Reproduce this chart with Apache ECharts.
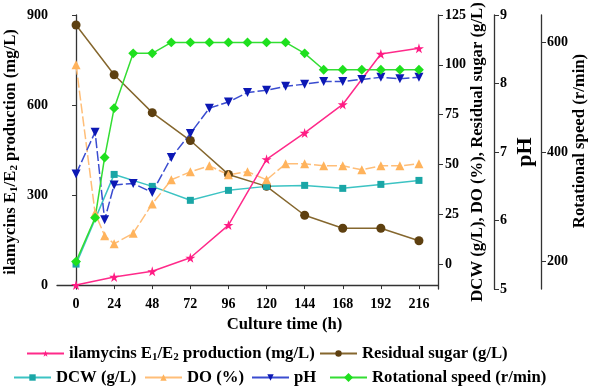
<!DOCTYPE html>
<html>
<head>
<meta charset="utf-8">
<script src="https://cdn.jsdelivr.net/npm/echarts@6/dist/echarts.min.js"></script>
<style>
  html, body { margin: 0; padding: 0; background: #fff; }
  #myChart { width: 590px; height: 387px; }
</style>
</head>
<body>
<div id="myChart"></div>
<script>
// culture time (h)
var hours10 = [0, 24, 48, 72, 96, 120, 144, 168, 192, 216];
var hours20 = [0, 12, 18, 24, 36, 48, 60, 72, 84, 96, 108, 120, 132, 144, 156, 168, 180, 192, 204, 216];

// series values
var ilamycins = [0, 27, 46, 91, 200, 419, 507, 602, 770, 789];
var sugar = [120, 95, 76, 62, 45, 39, 24.5, 18, 18, 11.7];
var dcw = [0, 45, 39, 32, 37, 39, 39.5, 38, 40, 42];
var doVal = [100, 25.6, 14.2, 10.2, 15.5, 30.2, 42.3, 46.3, 49.3, 44.8, 46.4, 42.3, 50.3, 50.3, 49.3, 49.3, 47.3, 49.3, 49.3, 50.3];
var ph = [6.68, 7.29, 6.01, 6.52, 6.54, 6.41, 6.92, 7.27, 7.64, 7.73, 7.87, 7.90, 7.96, 7.99, 8.03, 8.03, 8.06, 8.09, 8.07, 8.09];
var speed = [200, 280, 390, 480, 580, 580, 600, 600, 600, 600, 600, 600, 600, 580, 550, 550, 550, 550, 550, 550];

// tick labels
var xTicks = [0, 24, 48, 72, 96, 120, 144, 168, 192, 216];
var leftTicks = [0, 300, 600, 900];
var rightTicks = [0, 25, 50, 75, 100, 125];
var speedTicks = [200, 400, 600];

var NAME_ILA = 'ilamycins E1/E2 production (mg/L)';
var FONT = 'Liberation Serif';
var FS = 16.7;
var STAR = 'path://M50,0 L61,35 L98,35 L68,57 L79,91 L50,70 L21,91 L32,57 L2,35 L39,35 Z';

function pairs(xs, ys) {
    var out = [];
    for (var i = 0; i < xs.length; i++) out.push([xs[i], ys[i]]);
    return out;
}

var richSub = {
    s: {fontFamily: FONT, fontWeight: 'bold', fontSize: 11, color: '#000', padding: [7, 0, 0, 0]}
};
var labelStyle = {fontFamily: FONT, fontWeight: 'bold', fontSize: 14, color: '#000'};
var nameStyle = {fontFamily: FONT, fontWeight: 'bold', fontSize: FS, color: '#000', rich: richSub};
var axisLine = {show: true, lineStyle: {color: '#333', width: 1.3}};

function legendAt(name, left, top) {
    return {
        data: [name],
        left: left,
        top: top,
        padding: 0,
        itemWidth: 37,
        itemHeight: 8,
        selectedMode: false,
        lineStyle: {type: 'solid'},
        formatter: function (n) {
            return n === NAME_ILA ? 'ilamycins E{s|1}/E{s|2} production (mg/L)' : n;
        },
        textStyle: {fontFamily: FONT, fontWeight: 'bold', fontSize: FS, color: '#000', rich: richSub}
    };
}

var myChart = echarts.init(document.getElementById('myChart'));
var option = {
    animation: false,
    backgroundColor: '#fff',
    grid: {left: 57, right: 152, top: 15, bottom: 98, outerBoundsMode: 'none', containLabel: false},
    legend: [
        legendAt(NAME_ILA, 26, 345),
        legendAt('Residual sugar (g/L)', 319, 345),
        legendAt('DCW (g/L)', 13, 369),
        legendAt('DO (%)', 144, 369),
        legendAt('pH', 251, 369),
        legendAt('Rotational speed (r/min)', 329, 369)
    ],
    xAxis: {
        type: 'value',
        min: -12,
        max: 228,
        name: 'Culture time (h)',
        nameLocation: 'middle',
        nameGap: 27,
        nameMoveOverlap: false,
        nameTextStyle: {fontFamily: FONT, fontWeight: 'bold', fontSize: FS, color: '#000', padding: [0, 0, 0, 74]},
        axisLine: axisLine,
        axisTick: {show: true, length: 4, customValues: xTicks, lineStyle: {color: '#333'}},
        axisLabel: Object.assign({customValues: xTicks, margin: 8}, labelStyle),
        splitLine: {show: false}
    },
    yAxis: [
        {
            type: 'value',
            position: 'left',
            min: -13,
            max: 900,
            name: 'ilamycins E{s|1}/E{s|2} production (mg/L)',
            nameLocation: 'middle',
            nameGap: 37,
            nameMoveOverlap: false,
            nameTextStyle: nameStyle,
            axisLine: axisLine,
            axisTick: {show: true, length: 4, customValues: leftTicks, lineStyle: {color: '#333'}},
            axisLabel: Object.assign({customValues: leftTicks, margin: 9}, labelStyle),
            splitLine: {show: false}
        },
        {
            type: 'value',
            position: 'right',
            min: -12.5,
            max: 125,
            name: 'DCW (g/L), DO (%), Residual sugar (g/L)',
            nameLocation: 'middle',
            nameGap: 31,
            nameMoveOverlap: false,
            nameTextStyle: nameStyle,
            axisLine: axisLine,
            axisTick: {show: true, length: 5, customValues: rightTicks, lineStyle: {color: '#333'}},
            axisLabel: Object.assign({customValues: rightTicks, margin: 7}, labelStyle),
            splitLine: {show: false}
        },
        {
            type: 'value',
            position: 'right',
            offset: 56,
            min: 5,
            max: 9,
            interval: 1,
            name: 'pH',
            nameLocation: 'middle',
            nameGap: 20,
            nameMoveOverlap: false,
            nameTextStyle: {fontFamily: FONT, fontWeight: 'bold', fontSize: 22, color: '#000'},
            axisLine: axisLine,
            axisTick: {show: true, length: 5, lineStyle: {color: '#333'}},
            axisLabel: Object.assign({margin: 6}, labelStyle),
            splitLine: {show: false}
        },
        {
            type: 'value',
            position: 'right',
            offset: 103,
            min: 150,
            max: 650,
            name: 'Rotational speed (r/min)',
            nameLocation: 'middle',
            nameGap: 30,
            nameMoveOverlap: false,
            nameTextStyle: {fontFamily: FONT, fontWeight: 'bold', fontSize: FS, color: '#000', padding: [0, 0, 0, 22]},
            axisLine: axisLine,
            axisTick: {show: true, length: 5, customValues: speedTicks, lineStyle: {color: '#333'}},
            axisLabel: Object.assign({customValues: speedTicks, margin: 6}, labelStyle),
            splitLine: {show: false}
        }
    ],
    series: [
        {
            name: 'Residual sugar (g/L)',
            type: 'line',
            yAxisIndex: 1,
            data: pairs(hours10, sugar),
            symbol: 'circle',
            symbolSize: 9,
            lineStyle: {color: '#85672e', width: 1.5},
            itemStyle: {color: '#5e4010'}
        },
        {
            name: 'DCW (g/L)',
            type: 'line',
            yAxisIndex: 1,
            data: pairs(hours10, dcw),
            symbol: 'rect',
            symbolSize: 7,
            lineStyle: {color: '#3cc3c3', width: 1.5},
            itemStyle: {color: '#1aa6a6'}
        },
        {
            name: 'DO (%)',
            type: 'line',
            yAxisIndex: 1,
            data: pairs(hours20, doVal),
            symbol: 'triangle',
            symbolSize: 9,
            lineStyle: {color: '#ffbe78', width: 1.5, type: [10, 3]},
            itemStyle: {color: '#ffb35c'}
        },
        {
            name: 'pH',
            type: 'line',
            yAxisIndex: 2,
            data: pairs(hours20, ph),
            symbol: 'triangle',
            symbolRotate: 180,
            symbolSize: 9,
            lineStyle: {color: '#3a4cd0', width: 1.5, type: [10, 3]},
            itemStyle: {color: '#0c18b4'}
        },
        {
            name: 'Rotational speed (r/min)',
            type: 'line',
            yAxisIndex: 3,
            data: pairs(hours20, speed),
            symbol: 'rect',
            symbolRotate: 45,
            symbolSize: 7,
            lineStyle: {color: '#33dd33', width: 1.5},
            itemStyle: {color: '#1ee01e'}
        },
        {
            name: NAME_ILA,
            type: 'line',
            yAxisIndex: 0,
            data: pairs(hours10, ilamycins),
            symbol: STAR,
            symbolSize: 10,
            lineStyle: {color: '#ff2a8a', width: 1.5},
            itemStyle: {color: '#ff1c84'}
        }
    ]
};
myChart.setOption(option);
window.onresize = myChart.resize;
</script>
</body>
</html>
